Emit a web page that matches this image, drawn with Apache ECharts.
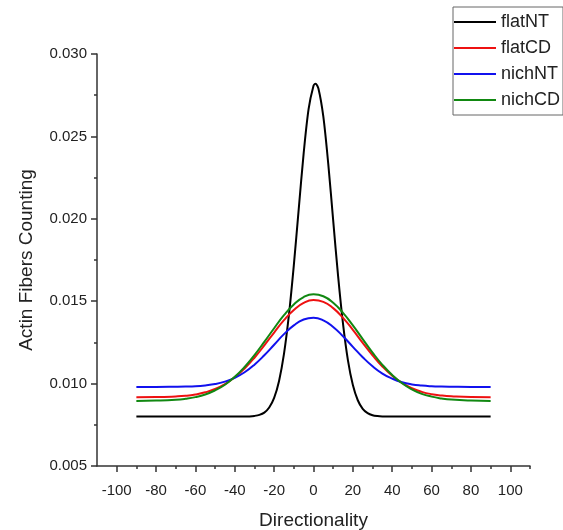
<!DOCTYPE html>
<html>
<head>
<meta charset="utf-8">
<script src="https://cdn.jsdelivr.net/npm/echarts@6/dist/echarts.min.js"></script>
<style>
  html, body { margin: 0; padding: 0; background: #fff; }
  #chart { width: 563px; height: 530px; }
</style>
</head>
<body>
<div id="chart"></div>
<script>
// Directionality distribution of actin fibres, four conditions.

// Shared x positions (degrees) for the three broad curves
const xBroad = [-90, -80, -70, -65, -60, -55, -50, -45, -40, -35, -30, -25, -20, -15, -10, -5, 0,
                5, 10, 15, 20, 25, 30, 35, 40, 45, 50, 55, 60, 65, 70, 80, 90];

const flatCD = [0.00917, 0.00918, 0.00922, 0.00926, 0.00934, 0.00947, 0.00967, 0.00997, 0.01038, 0.01092,
                0.01157, 0.01232, 0.01310, 0.01385, 0.01447, 0.01490, 0.01507, 0.01496, 0.01458, 0.01399,
                0.01326, 0.01247, 0.01172, 0.01104, 0.01048, 0.01004, 0.00972, 0.00950, 0.00936, 0.00928,
                0.00923, 0.00918, 0.00917];

const nichNT = [0.00980, 0.00980, 0.00981, 0.00982, 0.00984, 0.00989, 0.00997, 0.01012, 0.01035, 0.01069,
                0.01115, 0.01172, 0.01236, 0.01300, 0.01353, 0.01389, 0.01400, 0.01384, 0.01344, 0.01287,
                0.01223, 0.01160, 0.01105, 0.01061, 0.01030, 0.01008, 0.00995, 0.00988, 0.00984, 0.00982,
                0.00981, 0.00980, 0.00980];

const nichCD = [0.00895, 0.00897, 0.00902, 0.00908, 0.00918, 0.00934, 0.00959, 0.00993, 0.01041, 0.01101,
                0.01173, 0.01253, 0.01336, 0.01415, 0.01480, 0.01525, 0.01542, 0.01530, 0.01491, 0.01429,
                0.01353, 0.01270, 0.01188, 0.01114, 0.01052, 0.01002, 0.00965, 0.00938, 0.00921, 0.00910,
                0.00903, 0.00897, 0.00895];

// The narrow flatNT peak is sampled more densely
const xFlatNT = [-90, -60, -40, -35, -32.5, -30, -27.5, -25, -22.5, -20, -17.5, -15, -12.5, -10, -7.5, -5, -2.5,
                 0, 1, 2.5, 5, 7.5, 10, 12.5, 15, 17.5, 20, 22.5, 25, 27.5, 30, 32.5, 35, 40, 60, 90];
const flatNT = [0.00800, 0.00800, 0.00800, 0.00800, 0.00801, 0.00804, 0.00810, 0.00824, 0.00855, 0.00913,
                0.01016, 0.01180, 0.01415, 0.01717, 0.02060, 0.02397, 0.02665, 0.02807, 0.02820, 0.02791,
                0.02620, 0.02333, 0.01990, 0.01652, 0.01362, 0.01141, 0.00991, 0.00899, 0.00847, 0.00821,
                0.00808, 0.00803, 0.00801, 0.00800, 0.00800, 0.00800];

// Axis tick positions
const xMajorTicks = [-100, -80, -60, -40, -20, 0, 20, 40, 60, 80, 100];
const xMinorTicks = [-90, -70, -50, -30, -10, 10, 30, 50, 70, 90, 110];

const seriesNames = ['flatNT', 'flatCD', 'nichNT', 'nichCD'];
const seriesColors = ['#000000', '#ee1111', '#1111ee', '#118811'];

function pairs(xs, ys) {
  return xs.map((x, i) => [x, ys[i]]);
}

const font = "'Liberation Sans', Arial, sans-serif";
const axisColor = '#333333';
const textColor = '#222222';

const chart = echarts.init(document.getElementById('chart'), null, { renderer: 'canvas' });

const lineSeries = (name, data, color, smooth) => ({
  name: name,
  type: 'line',
  data: data,
  smooth: smooth,
  symbol: 'none',
  showSymbol: false,
  xAxisIndex: 0,
  yAxisIndex: 0,
  lineStyle: { color: color, width: 2 },
  itemStyle: { color: color },
  emphasis: { disabled: true },
  z: 3
});

chart.setOption({
  animation: false,
  backgroundColor: '#ffffff',
  color: seriesColors,
  grid: { left: 97, right: 33, top: 54, bottom: 64, containLabel: false, outerBoundsMode: 'none' },
  legend: {
    orient: 'vertical',
    left: 453,
    top: 7,
    padding: [5, 3, 5, 1],
    itemGap: 6,
    itemWidth: 42,
    itemHeight: 2,
    itemTextGap: 2,
    icon: 'rect',
    borderColor: '#666666',
    borderWidth: 1,
    backgroundColor: '#ffffff',
    data: seriesNames,
    textStyle: { fontFamily: font, fontSize: 18, color: textColor, lineHeight: 20 }
  },
  xAxis: [
    {
      type: 'value',
      position: 'bottom',
      min: -110,
      max: 110,
      interval: 10,
      name: 'Directionality',
      nameLocation: 'middle',
      nameGap: 45,
      nameTextStyle: { fontFamily: font, fontSize: 19, color: textColor },
      axisLine: { show: true, onZero: false, lineStyle: { color: axisColor, width: 1.5 } },
      axisTick: { show: true, length: 6, customValues: xMajorTicks, lineStyle: { color: axisColor, width: 1.5 } },
      axisLabel: { customValues: xMajorTicks, margin: 17, fontFamily: font, fontSize: 15, color: textColor },
      splitLine: { show: false }
    },
    {
      type: 'value',
      position: 'bottom',
      min: -110,
      max: 110,
      interval: 10,
      axisLine: { show: false, onZero: false },
      axisTick: { show: true, length: 3, customValues: xMinorTicks, lineStyle: { color: axisColor, width: 1.5 } },
      axisLabel: { show: false },
      splitLine: { show: false }
    }
  ],
  yAxis: {
    type: 'value',
    min: 0.005,
    max: 0.030,
    interval: 0.005,
    name: 'Actin Fibers Counting',
    nameLocation: 'middle',
    nameGap: 61,
    nameTextStyle: { fontFamily: font, fontSize: 19, color: textColor },
    axisLine: { show: true, onZero: false, lineStyle: { color: axisColor, width: 1.5 } },
    axisTick: { show: true, length: 6, lineStyle: { color: axisColor, width: 1.5 } },
    minorTick: { show: true, splitNumber: 2, length: 3, lineStyle: { color: axisColor, width: 1.5 } },
    axisLabel: {
      margin: 10,
      fontFamily: font,
      fontSize: 15,
      color: textColor,
      formatter: v => v.toFixed(3)
    },
    splitLine: { show: false }
  },
  series: [
    lineSeries('flatNT', pairs(xFlatNT, flatNT), seriesColors[0], 0.3),
    lineSeries('flatCD', pairs(xBroad, flatCD), seriesColors[1], 0.5),
    lineSeries('nichNT', pairs(xBroad, nichNT), seriesColors[2], 0.5),
    lineSeries('nichCD', pairs(xBroad, nichCD), seriesColors[3], 0.5)
  ]
});
</script>
</body>
</html>
